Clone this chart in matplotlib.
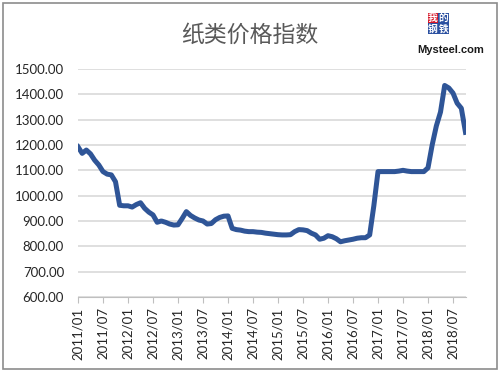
import matplotlib.pyplot as plt
from matplotlib.patches import Rectangle
import numpy as np

plt.rcParams['font.family'] = ['Lato', 'Noto Sans CJK SC', 'DejaVu Sans']

# Monthly paper price index, 2011/01 - 2018/10
start_year = 2011
values = [
    1193, 1167, 1180, 1165, 1140, 1121, 1095, 1085, 1082, 1055, 962, 960,
    960, 955, 965, 972, 950, 935, 924, 895, 900, 895, 888, 884,
    885, 910, 937, 922, 912, 904, 900, 888, 890, 905, 914, 919,
    920, 871, 866, 864, 860, 858, 858, 856, 855, 852, 850, 848,
    846, 845, 845, 846, 858, 866, 865, 862, 852, 845, 828, 832,
    842, 838, 830, 818, 822, 825, 828, 832, 834, 834, 845, 960,
    1095, 1095, 1095, 1095, 1095, 1097, 1100, 1097, 1095, 1095, 1095, 1095,
    1110, 1200, 1275, 1330, 1435, 1425, 1405, 1365, 1345, 1250,
]
tick_labels = ['2011/01', '2011/07', '2012/01', '2012/07', '2013/01', '2013/07',
               '2014/01', '2014/07', '2015/01', '2015/07', '2016/01', '2016/07',
               '2017/01', '2017/07', '2018/01', '2018/07']
title = '纸类价格指数'

months = np.arange(len(values))

fig = plt.figure(figsize=(5, 3.75), dpi=100)
ax = fig.add_axes([0.156, 0.208, 0.775, 0.608])

ax.plot(months, values, color='#2F5597', linewidth=3.6, solid_joinstyle='round')

ax.set_xlim(0, len(values) - 1)
ax.set_ylim(600, 1500)
ax.set_yticks(np.arange(600, 1501, 100))
ax.set_yticklabels(['%.2f' % v for v in range(600, 1501, 100)])
ax.set_xticks(np.arange(len(tick_labels)) * 6)
ax.set_xticklabels(tick_labels, rotation=90)

ax.grid(axis='y', color='#d9d9d9', linewidth=1.2)
ax.set_axisbelow(True)
for side in ['left', 'right', 'top']:
    ax.spines[side].set_visible(False)
ax.spines['bottom'].set_color('#bfbfbf')
ax.tick_params(axis='y', length=0, pad=10, labelsize=9.5, labelcolor='#262626')
ax.tick_params(axis='x', length=4, color='#bfbfbf', labelsize=9.5, labelcolor='#262626')

fig.text(0.5, 0.905, title, ha='center', va='center', fontsize=16.5,
         color='#595959', family=['Noto Sans CJK SC'])

# Mysteel logo
logo = [('我', '#d7182a', 0), ('的', '#2a4fa0', 1), ('钢', '#2a4fa0', 2), ('铁', '#2a4fa0', 3)]
for ch, col, i in logo:
    x0 = 427.5 + (i % 2) * 10.5
    y0 = 13 + (i // 2) * 10.5
    fig.patches.append(Rectangle((x0 / 500, 1 - (y0 + 10.5) / 375), 10.5 / 500, 10.5 / 375,
                                 transform=fig.transFigure, facecolor=col, edgecolor='none'))
    fig.text((x0 + 5.25) / 500, 1 - (y0 + 5.25) / 375, ch, ha='center', va='center',
             fontsize=7, color='white', fontweight='bold', family=['Noto Sans CJK SC'])
fig.text(451 / 500, 1 - 50 / 375, 'Mysteel.com', ha='center', va='center',
         fontsize=8, fontweight='bold', color='#1a1a1a', family=['Liberation Sans'])

# outer border
fig.patches.append(Rectangle((3 / 500, 1 - 369 / 375), 494 / 500, 366 / 375,
                             transform=fig.transFigure, facecolor='none',
                             edgecolor='#8c8c8c', linewidth=1.2))

fig.savefig('out.png', dpi=100)
